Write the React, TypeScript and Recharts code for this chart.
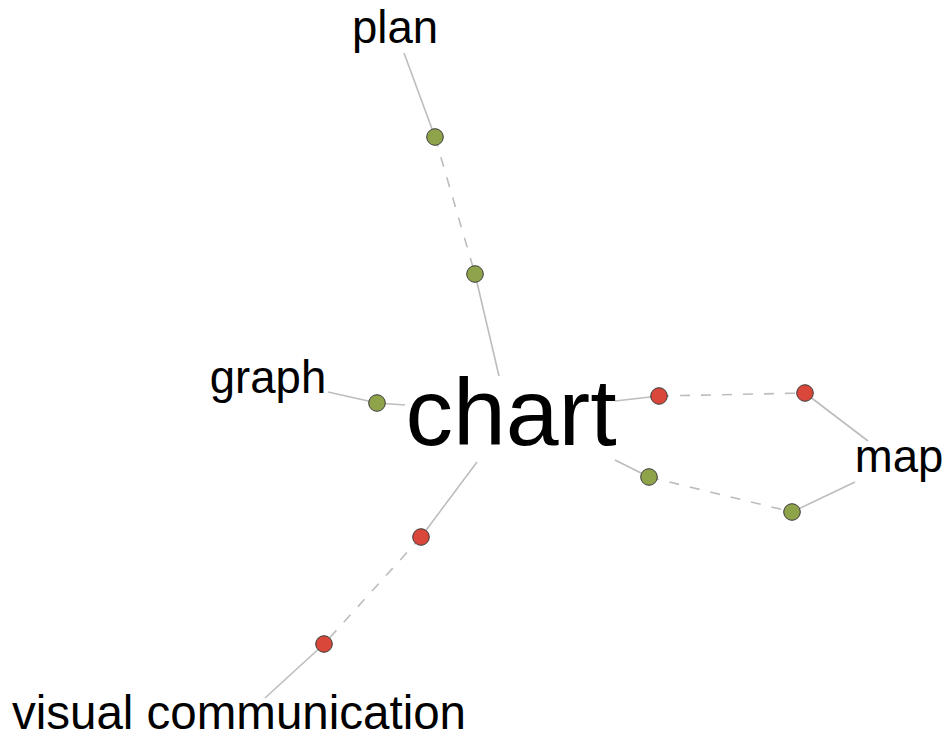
import React from "react";
import { ScatterChart, Scatter, XAxis, YAxis, ReferenceLine } from "recharts";

// Node positions (chart units = layout coordinates)
const labels = [
  { name: "chart", x: 511, y: 445, key: "center" },
  { name: "plan", x: 395, y: 43, key: "leaf" },
  { name: "graph", x: 268, y: 393, key: "leaf" },
  { name: "map", x: 899, y: 472, key: "leaf" },
  { name: "visual communication", x: 239, y: 729, key: "leafBig" },
];

const greenNodes = [
  { x: 435, y: 137 },
  { x: 475, y: 274 },
  { x: 377, y: 403 },
  { x: 649, y: 477 },
  { x: 792, y: 512 },
];

const redNodes = [
  { x: 659, y: 396 },
  { x: 805, y: 393 },
  { x: 421, y: 537 },
  { x: 324, y: 644 },
];

// edges: [x1, y1, x2, y2]
const solidEdges = [
  [404, 53, 435, 137],
  [475, 274, 499, 376],
  [328, 392, 377, 403],
  [377, 403, 405, 405],
  [615, 401, 659, 396],
  [805, 393, 868, 441],
  [615, 460, 649, 477],
  [792, 512, 855, 482],
  [477, 462, 421, 537],
  [324, 644, 265, 698],
];

const dashedEdges = [
  [435, 137, 475, 274],
  [659, 396, 805, 393],
  [649, 477, 792, 512],
  [421, 537, 324, 644],
];

const fontSizes: Record<string, number> = { center: 95, leaf: 45.5, leafBig: 47.5 };

const GREEN = "#8fa34a";
const RED = "#d9463a";
const EDGE = "#bdbdbd";

const Dot = (fill: string) => (props: any) => {
  const { cx, cy } = props;
  if (cx == null || cy == null) return null;
  return <circle cx={cx} cy={cy} r={8.3} fill={fill} stroke="#3a3a3a" strokeWidth={1} />;
};

const LabelShape = (props: any) => {
  const { cx, cy, payload } = props;
  if (cx == null || cy == null) return null;
  return (
    <text
      x={cx}
      y={cy}
      textAnchor="middle"
      fontFamily="'Liberation Sans', Arial, sans-serif"
      fontSize={fontSizes[payload.key]}
      fill="#000"
    >
      {payload.name}
    </text>
  );
};

export default function App() {
  return (
    <div style={{ position: "absolute", left: 0, top: 0, background: "#fff" }}>
      <ScatterChart width={951} height={737} margin={{ top: 0, right: 0, bottom: 0, left: 0 }}>
        <XAxis type="number" dataKey="x" domain={[0, 951]} hide allowDataOverflow />
        <YAxis type="number" dataKey="y" domain={[0, 737]} reversed hide allowDataOverflow />
        {solidEdges.map((e, i) => (
          <ReferenceLine
            key={"s" + i}
            segment={[{ x: e[0], y: e[1] }, { x: e[2], y: e[3] }]}
            stroke={EDGE}
            strokeWidth={1.6}
            ifOverflow="visible"
          />
        ))}
        {dashedEdges.map((e, i) => (
          <ReferenceLine
            key={"d" + i}
            segment={[{ x: e[0], y: e[1] }, { x: e[2], y: e[3] }]}
            stroke={EDGE}
            strokeWidth={1.6}
            strokeDasharray="10 11"
            ifOverflow="visible"
          />
        ))}
        <Scatter data={labels} shape={LabelShape} isAnimationActive={false} />
        <Scatter data={greenNodes} shape={Dot(GREEN)} isAnimationActive={false} />
        <Scatter data={redNodes} shape={Dot(RED)} isAnimationActive={false} />
      </ScatterChart>
    </div>
  );
}
